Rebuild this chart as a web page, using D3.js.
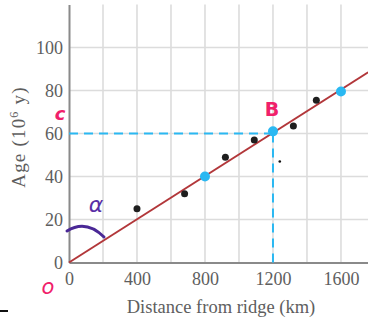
<!DOCTYPE html>
<html>
<head>
<meta charset="utf-8">
<script src="https://cdn.jsdelivr.net/npm/d3@7"></script>
<style>
  body { margin: 0; background: #fff; }
  svg text { font-family: "Liberation Serif", "DejaVu Serif", serif; }
</style>
</head>
<body>
<svg id="chart" width="368" height="324"></svg>
<script>
// measured points (distance km, age My)
const blackPoints = [
    { km: 400, age: 25 },
    { km: 680, age: 32 },
    { km: 920, age: 49 },
    { km: 1090, age: 57 },
    { km: 1320, age: 63.5 },
    { km: 1455, age: 75.5 }
];
const bluePoints = [
    { km: 800, age: 40 },
    { km: 1200, age: 61 },
    { km: 1600, age: 79.5 }
];
const fitLine = [
    { km: 0, age: 0 },
    { km: 1760, age: 88.5 }
];
const xTicks = [0, 400, 800, 1200, 1600];
const yTicks = [0, 20, 40, 60, 80, 100];
const xGrid = [200, 400, 600, 800, 1000, 1200, 1400, 1600, 1800];
const yGrid = [20, 40, 60, 80, 100];
// handwritten guide at point B
const guideX = 1200;
const guideY = 60;

let svg = d3.select('#chart');
let plotMargins = { top: 4.5, bottom: 61.5, left: 69, right: 0 };
let width = 368, height = 324;

let xScale = d3.scaleLinear()
    .domain([0, 1759])
    .range([plotMargins.left, width - plotMargins.right]);
let yScale = d3.scaleLinear()
    .domain([0, 120])
    .range([height - plotMargins.bottom, plotMargins.top]);

let gridGroup = svg.append('g').classed('grid', true);
gridGroup.selectAll('.vgrid')
    .data(xGrid)
    .enter()
    .append('line')
    .attr('x1', d => xScale(d)).attr('x2', d => xScale(d))
    .attr('y1', yScale(0)).attr('y2', yScale(120))
    .style('stroke', '#dcdcdc').style('stroke-width', 1.6);
gridGroup.selectAll('.hgrid')
    .data(yGrid)
    .enter()
    .append('line')
    .attr('x1', xScale(0)).attr('x2', width)
    .attr('y1', d => yScale(d)).attr('y2', d => yScale(d))
    .style('stroke', '#dcdcdc').style('stroke-width', 1.6);

// axes
let fmt = d3.format('d');
let xAxis = d3.axisBottom(xScale).tickValues(xTicks).tickFormat(fmt).tickSize(0).tickPadding(10);
let yAxis = d3.axisLeft(yScale).tickValues(yTicks).tickFormat(fmt).tickSize(0).tickPadding(6);

let xAxisGroup = svg.append('g')
    .classed('axis', true)
    .attr('transform', `translate(0,${yScale(0)})`)
    .call(xAxis);
let yAxisGroup = svg.append('g')
    .classed('axis', true)
    .attr('transform', `translate(${xScale(0)},0)`)
    .call(yAxis);
[xAxisGroup, yAxisGroup].forEach(g => {
    g.attr('font-family', 'Liberation Serif').attr('font-size', 18);
    g.select('.domain').style('stroke', '#8a8a8a').style('stroke-width', 2);
    g.selectAll('text').style('fill', '#5e5e5e');
});
yAxisGroup.selectAll('text').attr('dy', '0.36em');

svg.append('text')
    .attr('x', 221)
    .attr('y', 313)
    .attr('text-anchor', 'middle')
    .style('font-size', '18.5px')
    .style('fill', '#5e5e5e')
    .text('Distance from ridge (km)');

let yTitle = svg.append('text')
    .attr('transform', `translate(25,137) rotate(-90)`)
    .attr('text-anchor', 'middle')
    .style('font-size', '19px')
    .style('letter-spacing', '1.2px')
    .style('fill', '#5e5e5e');
yTitle.append('tspan').text('Age (10');
yTitle.append('tspan').attr('dy', -7).style('font-size', '12px').text('6');
yTitle.append('tspan').attr('dy', 7).text(' y)');

// fitted line
let line = d3.line().x(d => xScale(d.km)).y(d => yScale(d.age));
svg.append('path')
    .datum(fitLine)
    .attr('d', line)
    .style('fill', 'none')
    .style('stroke', '#b2373a')
    .style('stroke-width', 2);

// dashed guide lines
let guide = svg.append('g').classed('guide', true)
    .style('stroke', '#2ab8f2').style('stroke-width', 2)
    .style('stroke-dasharray', '9,6').style('fill', 'none');
guide.append('path')
    .attr('d', d3.line()([
        [xScale(0), yScale(guideY)],
        [xScale(guideX), yScale(guideY)]
    ]));
guide.append('path')
    .attr('d', d3.line()([
        [xScale(guideX), yScale(guideY)],
        [xScale(guideX), yScale(0)]
    ]));

// points
svg.selectAll('.black-dot')
    .data(blackPoints)
    .enter()
    .append('circle')
    .attr('cx', d => xScale(d.km))
    .attr('cy', d => yScale(d.age))
    .attr('r', 3.5)
    .style('fill', '#1e1e1e');
svg.selectAll('.blue-dot')
    .data(bluePoints)
    .enter()
    .append('circle')
    .attr('cx', d => xScale(d.km))
    .attr('cy', d => yScale(d.age))
    .attr('r', 5)
    .style('fill', '#2ab8f2');

// stray speck near the guide
svg.append('circle')
    .attr('cx', xScale(1240)).attr('cy', yScale(47))
    .attr('r', 1.3).style('fill', '#111');

// handwritten marks
let hand = (x, y, size, color, txt, italic, bold) => svg.append('text')
    .attr('x', x).attr('y', y)
    .attr('text-anchor', 'middle')
    .style('font-family', '"DejaVu Sans", sans-serif')
    .style('font-size', size + 'px')
    .style('font-style', italic ? 'italic' : 'normal')
    .style('font-weight', bold ? 'bold' : 'normal')
    .style('fill', color)
    .text(txt);
hand(60, 120, 18, '#f0206a', 'c', true, true);
hand(272, 116, 19, '#f0206a', 'B', false, true);
hand(48, 294, 21, '#f0206a', 'o', true, false);
hand(96, 212, 22, '#5a2fa6', 'α', true, false);
svg.append('path')
    .attr('d', 'M67,231 Q86,219 104,237')
    .style('fill', 'none').style('stroke', '#4a2896')
    .style('stroke-width', 3).style('stroke-linecap', 'round');
svg.append('line')
    .attr('x1', 0).attr('x2', 8).attr('y1', 311).attr('y2', 311)
    .style('stroke', '#111').style('stroke-width', 2);
</script>
</body>
</html>
